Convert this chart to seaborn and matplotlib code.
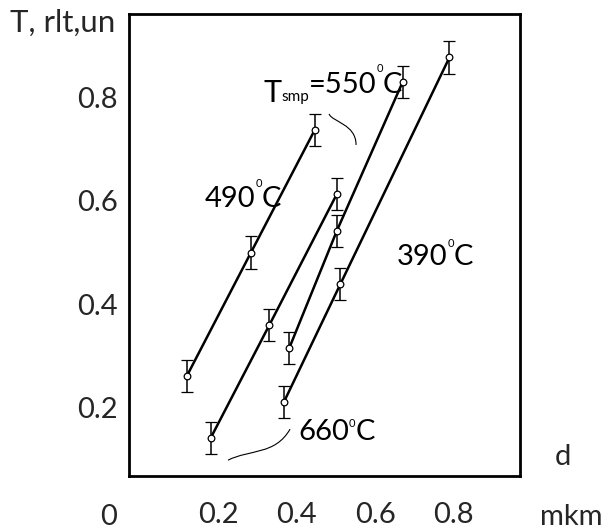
import matplotlib
matplotlib.use("Agg")
import matplotlib.pyplot as plt
import matplotlib.transforms as mtransforms
from matplotlib.path import Path
from matplotlib.patches import PathPatch
import seaborn as sns
import pandas as pd

# ---------------- data ----------------
series = ["490", "660", "550", "390"]
d_490 = [0.120, 0.283, 0.445]
T_490 = [0.262, 0.500, 0.736]
d_660 = [0.180, 0.330, 0.502]
T_660 = [0.141, 0.360, 0.613]
d_550 = [0.381, 0.502, 0.670]
T_550 = [0.316, 0.542, 0.830]
d_390 = [0.367, 0.511, 0.789]
T_390 = [0.211, 0.439, 0.877]
err_490 = [0.031, 0.031, 0.031]
err_660 = [0.031, 0.031, 0.031]
err_550 = [0.031, 0.031, 0.031]
err_390 = [0.031, 0.031, 0.031]

x_ticks = [0.2, 0.4, 0.6, 0.8]
x_ticklabels = ["0.2", "0.4", "0.6", "0.8"]
y_ticks = [0.2, 0.4, 0.6, 0.8]
y_ticklabels = ["0.2", "0.4", "0.6", "0.8"]

d_all = {"490": d_490, "660": d_660, "550": d_550, "390": d_390}
T_all = {"490": T_490, "660": T_660, "550": T_550, "390": T_390}
e_all = {"490": err_490, "660": err_660, "550": err_550, "390": err_390}

rows = []
for s in series:
    for d, t, e in zip(d_all[s], T_all[s], e_all[s]):
        rows.append({"series": s, "d": d, "T": t, "err": e})
df = pd.DataFrame(rows)

# ---------------- style ----------------
sns.set_style("white")
plt.rcParams["font.family"] = ["Lato", "DejaVu Sans"]
plt.rcParams["mathtext.default"] = "regular"

fig = plt.figure(figsize=(6.09, 5.29), dpi=100)
ax = fig.add_axes([0.2118, 0.1002, 0.6421, 0.8733])

sns.lineplot(data=df, x="d", y="T", hue="series", units="series",
             estimator=None, sort=False, palette={s: "black" for s in series},
             linewidth=1.8, legend=False, ax=ax, zorder=2)

for s in series:
    sub = df[df["series"] == s]
    ax.errorbar(sub["d"], sub["T"], yerr=sub["err"], fmt="o", ms=4.8,
                mfc="white", mec="black", mew=0.9, ecolor="black",
                elinewidth=1.1, capsize=4, capthick=1.1, zorder=3)

ax.set_xlim(-0.028, 0.969)
ax.set_ylim(0.068, 0.961)
ax.set_xticks(x_ticks)
ax.set_xticklabels(x_ticklabels)
ax.set_yticks(y_ticks)
ax.set_yticklabels(y_ticklabels)
ax.tick_params(axis="x", length=0, pad=19, labelsize=21)
ax.tick_params(axis="y", length=0, pad=8, labelsize=21)
ax.set_xlabel("")
ax.set_ylabel("")
for sp in ax.spines.values():
    sp.set_color("black")
    sp.set_linewidth(2.0)
    sp.set_visible(True)

renderer = fig.canvas.get_renderer()


def place_pieces(x, y, pieces):
    dx = 0.0
    for s, fs, dy in pieces:
        tr = mtransforms.offset_copy(ax.transData, fig=fig, x=dx, y=dy, units="points")
        t = ax.text(x, y, s, fontsize=fs, transform=tr, ha="left", va="baseline",
                    color="black", clip_on=False)
        w = t.get_window_extent(renderer).width * 72.0 / fig.dpi
        dx += w


# series labels
place_pieces(0.1658, 0.5874, [("490", 21, 0), ("0", 8, 14.4), ("C", 21, 0)])
place_pieces(0.6548, 0.4758, [("390", 21, 0), ("0", 8, 13), ("C", 21, 0)])
place_pieces(0.4031, 0.1373, [("660", 21, 0), ("0", 8, 9.5), ("C", 21, 0)])
place_pieces(0.3138, 0.7911, [("T", 22, 0), ("smp", 11, 0.7), ("=550", 21, 6.5),
                              ("0", 8, 21.5), ("C", 21, 6.5)])

# leader curves
curves = [
    [(0.4821, 0.7679), (0.4898, 0.7524), (0.5510, 0.7485), (0.5510, 0.7079)],
    [(0.2245, 0.0986), (0.2806, 0.1199), (0.3444, 0.1083), (0.3827, 0.1586)],
]
for c in curves:
    p = Path(c, [Path.MOVETO, Path.CURVE4, Path.CURVE4, Path.CURVE4])
    ax.add_patch(PathPatch(p, facecolor="none", edgecolor="black", lw=0.8, zorder=2))

# outer texts
fig.text(10 / 609, 1 - 32 / 529, "T, rlt,un", fontsize=22.5, ha="left", va="baseline")
fig.text(109 / 609, 1 - 525 / 529, "0", fontsize=21, ha="center", va="baseline")
fig.text(540 / 609, 1 - 525 / 529, "mkm", fontsize=21, ha="left", va="baseline")
fig.text(555 / 609, 1 - 465 / 529, "d", fontsize=21, ha="left", va="baseline")

fig.savefig("out.png", dpi=100)
